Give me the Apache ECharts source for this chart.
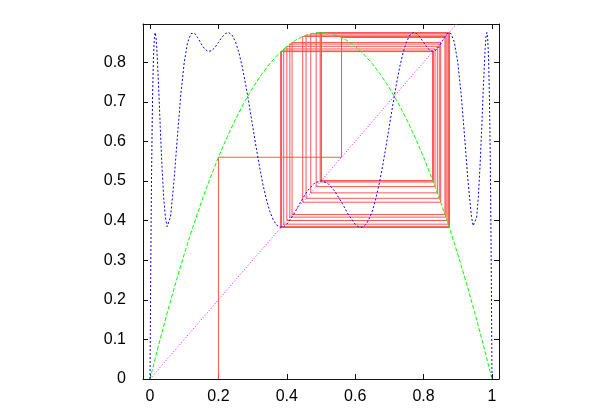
<!DOCTYPE html>
<html>
<head>
<meta charset="utf-8">
<script src="https://cdn.jsdelivr.net/npm/echarts@6/dist/echarts.min.js"></script>
<style>html,body{margin:0;padding:0;background:#fff}#c{width:600px;height:420px}</style>
</head>
<body>
<div id="c"></div>
<script>
// Tick labels
var xTicks = [0, 0.2, 0.4, 0.6, 0.8, 1];
var yTicks = [0, 0.1, 0.2, 0.3, 0.4, 0.5, 0.6, 0.7, 0.8];

// Cobweb iterates x0, x1, x2, ...
var iterates = [0.2, 0.56, 0.8624, 0.41533, 0.84991, 0.44649, 0.86498, 0.40878, 0.84587,
  0.45630, 0.86831, 0.40021, 0.84015, 0.47005, 0.87186, 0.39102, 0.83343, 0.48588,
  0.87430, 0.38464, 0.82842, 0.49749, 0.87498, 0.38287, 0.82698, 0.50079, 0.87500,
  0.38282, 0.82694, 0.50089, 0.87500, 0.38281, 0.82693, 0.50090, 0.87500];

// Green curve f(x)
var parabolaX = [0, 0.025, 0.05, 0.075, 0.1, 0.125, 0.15, 0.175, 0.2, 0.225, 0.25, 0.275, 0.3,
  0.325, 0.35, 0.375, 0.4, 0.425, 0.45, 0.475, 0.5, 0.525, 0.55, 0.575, 0.6, 0.625, 0.65,
  0.675, 0.7, 0.725, 0.75, 0.775, 0.8, 0.825, 0.85, 0.875, 0.9, 0.925, 0.95, 0.975, 1];
var parabolaY = [0, 0.0853, 0.16625, 0.24281, 0.315, 0.38281, 0.44625, 0.50531, 0.56, 0.61031,
  0.65625, 0.69781, 0.735, 0.76781, 0.79625, 0.82031, 0.84, 0.85531, 0.86625, 0.87281, 0.875,
  0.87281, 0.86625, 0.85531, 0.84, 0.82031, 0.79625, 0.76781, 0.735, 0.69781, 0.65625, 0.61031,
  0.56, 0.50531, 0.44625, 0.38281, 0.315, 0.24281, 0.16625, 0.0853, 0];

// Blue curve (fourth iterate)
var quartX = [0, 0.002, 0.004, 0.006, 0.008, 0.01, 0.0125, 0.015, 0.0175, 0.02, 0.025, 0.03,
  0.035, 0.04, 0.045, 0.05, 0.055, 0.06, 0.07, 0.08, 0.09, 0.1, 0.11, 0.12, 0.125, 0.13, 0.14,
  0.15, 0.16, 0.17, 0.18, 0.19, 0.2, 0.21, 0.22, 0.23, 0.24, 0.25, 0.26, 0.27, 0.28, 0.29, 0.3,
  0.31, 0.32, 0.33, 0.34, 0.35, 0.36, 0.37, 0.38, 0.39, 0.4, 0.42, 0.44, 0.46, 0.48, 0.5,
  0.52, 0.54, 0.56, 0.58, 0.6, 0.61, 0.62, 0.63, 0.64, 0.65, 0.66, 0.67, 0.68, 0.69, 0.7,
  0.71, 0.72, 0.73, 0.74, 0.75, 0.76, 0.77, 0.78, 0.79, 0.8, 0.81, 0.82, 0.83, 0.84, 0.85,
  0.86, 0.87, 0.875, 0.88, 0.89, 0.9, 0.91, 0.92, 0.93, 0.94, 0.945, 0.95, 0.955, 0.96,
  0.965, 0.97, 0.975, 0.98, 0.9825, 0.985, 0.9875, 0.99, 0.992, 0.994, 0.996, 0.998, 1];
var quartY = [0, 0.2662, 0.4712, 0.6245, 0.7344, 0.8081, 0.8593, 0.8750, 0.8642, 0.8344, 0.7421,
  0.6351, 0.5364, 0.4588, 0.4080, 0.3848, 0.3868, 0.4097, 0.4984, 0.6110, 0.7174, 0.7993,
  0.8503, 0.8725, 0.8750, 0.8732, 0.8615, 0.8460, 0.8333, 0.8272, 0.8290, 0.8375, 0.8499,
  0.8627, 0.8721, 0.8749, 0.8685, 0.8517, 0.8243, 0.7873, 0.7425, 0.6923, 0.6394, 0.5868,
  0.5370, 0.4923, 0.4543, 0.4242, 0.4024, 0.3889, 0.3832, 0.3842, 0.3908, 0.4155, 0.4465,
  0.4748, 0.4941, 0.5009,
  0.4941, 0.4748, 0.4465, 0.4155, 0.3908, 0.3842, 0.3832, 0.3889, 0.4024, 0.4242, 0.4543,
  0.4923, 0.5370, 0.5868, 0.6394, 0.6923, 0.7425, 0.7873, 0.8243, 0.8517, 0.8685, 0.8749,
  0.8721, 0.8627, 0.8499, 0.8375, 0.8290, 0.8272, 0.8333, 0.8460, 0.8615, 0.8732, 0.8750,
  0.8725, 0.8503, 0.7993, 0.7174, 0.6110, 0.4984, 0.4097, 0.3868, 0.3848, 0.4080, 0.4588,
  0.5364, 0.6351, 0.7421, 0.8344, 0.8642, 0.8750, 0.8593, 0.8081, 0.7344, 0.6245, 0.4712,
  0.2662, 0];

// Diagonal y = x
var diagonal = [0, 1];

function zip(a, b) { return a.map(function (v, i) { return [v, b[i]]; }); }

var cobweb = [[iterates[0], 0]];
for (var i = 0; i < iterates.length - 1; i++) {
  cobweb.push([iterates[i], iterates[i + 1]]);
  cobweb.push([iterates[i + 1], iterates[i + 1]]);
}

var font = 'Liberation Sans, Arial, sans-serif';
var chart = echarts.init(document.getElementById('c'), null, {renderer: 'canvas'});
var axLine = {show: true, onZero: false, lineStyle: {color: '#111', width: 1}};
chart.setOption({
  animation: false,
  grid: {left: 143, top: 24, width: 356, height: 355, show: false},
  xAxis: [{
    type: 'value', min: -0.0205, max: 1.0205, position: 'bottom',
    axisLine: axLine, splitLine: {show: false},
    axisTick: {show: true, inside: true, length: 5, customValues: xTicks, lineStyle: {color: '#111'}},
    axisLabel: {show: true, customValues: xTicks, margin: 10, color: '#000', fontSize: 16, fontFamily: font}
  }, {
    type: 'value', min: -0.0205, max: 1.0205, position: 'top',
    axisLine: axLine, splitLine: {show: false},
    axisTick: {show: true, inside: true, length: 5, customValues: xTicks, lineStyle: {color: '#111'}},
    axisLabel: {show: false}
  }],
  yAxis: [{
    type: 'value', min: 0, max: 0.8965, position: 'left',
    axisLine: axLine, splitLine: {show: false},
    axisTick: {show: true, inside: true, length: 5, customValues: yTicks, lineStyle: {color: '#111'}},
    axisLabel: {show: true, customValues: yTicks, margin: 17, color: '#000', fontSize: 16, fontFamily: font}
  }, {
    type: 'value', min: 0, max: 0.8965, position: 'right',
    axisLine: axLine, splitLine: {show: false},
    axisTick: {show: true, inside: true, length: 5, customValues: yTicks, lineStyle: {color: '#111'}},
    axisLabel: {show: false}
  }],
  series: [{
    type: 'line', data: cobweb, showSymbol: false, clip: true,
    lineStyle: {color: '#ff5555', width: 1}
  }, {
    type: 'line', data: zip(parabolaX, parabolaY), showSymbol: false, clip: true,
    lineStyle: {color: '#00ff00', width: 1, type: [4, 2]}
  }, {
    type: 'line', data: zip(quartX, quartY), showSymbol: false, clip: true,
    lineStyle: {color: '#0000ff', width: 1, type: [2, 2]}
  }, {
    type: 'line', data: zip(diagonal, diagonal), showSymbol: false, clip: true,
    lineStyle: {color: '#ff00ff', width: 1, type: [1, 2]}
  }]
});
</script>
</body>
</html>
